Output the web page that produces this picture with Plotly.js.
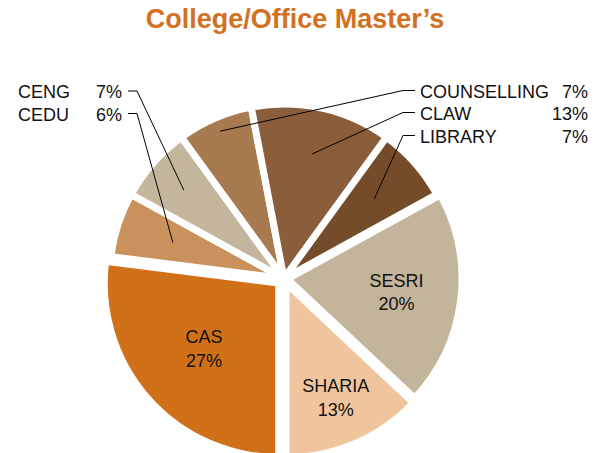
<!DOCTYPE html>
<html><head><meta charset="utf-8">
<script src="https://cdn.plot.ly/plotly-3.0.1.min.js"></script>
<style>html,body{margin:0;padding:0;overflow:hidden;background:#fff}#chart{width:597px;height:460px}</style>
</head><body><div id="chart"></div>
<script>
// ---- data ----
const categories = ['CAS','CEDU','CENG','COUNSELLING','CLAW','LIBRARY','SESRI','SHARIA'];
const percents   = [27, 6, 7, 7, 13, 7, 20, 13];
const colors     = ['#D0711A','#CA915D','#C4B69D','#A87A50','#8A5D3B','#744C2A','#C3B59B','#F0C59E'];
const insideLabels = ['CAS','SESRI','SHARIA'];
const calloutLeft  = ['CENG','CEDU'];
const calloutRight = ['COUNSELLING','CLAW','LIBRARY'];

// ---- layout / style ----
const W = 597, H = 460, T = 97;
const domX = [0.1657, 0.7857];
const pulls = [0.04, 0, 0, 0, 0, 0, 0.02, 0.03];
const font = 'Liberation Sans, Arial, Helvetica, sans-serif';
const leftRowsY = [92.5, 115];
const rightRowsY = [92, 114, 137];
const leaderFrac = {CENG:0.765, CEDU:0.67, COUNSELLING:0.92, CLAW:0.73, LIBRARY:0.69};

const plotH = H - T;
const R = Math.min(W*(domX[1]-domX[0])/2, plotH/2) / (1 + Math.max(...pulls));
const cx = W*(domX[0]+domX[1])/2, cy = T + plotH/2;
const total = percents.reduce((a,b)=>a+b,0);
const startDeg = 180;
const midDeg = {};
let cum = 0;
categories.forEach((c,i)=>{ midDeg[c] = startDeg + (cum + percents[i]/2)/total*360; cum += percents[i]; });
function anchorPt(c){
  const a = midDeg[c]*Math.PI/180, r = leaderFrac[c]*R;
  return [cx + r*Math.sin(a), cy - r*Math.cos(a)];
}
const px = x => x / W;
const py = y => (H - y) / plotH;

const texts = categories.map((c,i)=> insideLabels.includes(c) ? c + '<br>' + percents[i] + '%' : '');

const annotations = [], shapes = [];
function addRow(c, y, nameX, valX, hx0, hx1){
  const i = categories.indexOf(c);
  annotations.push({xref:'paper', yref:'paper', x:px(nameX), y:py(y), xanchor:'left', yanchor:'middle',
    text:c, showarrow:false, font:{family:font, size:18, color:'#111'}});
  annotations.push({xref:'paper', yref:'paper', x:px(valX), y:py(y), xanchor:'right', yanchor:'middle',
    text:percents[i]+'%', showarrow:false, font:{family:font, size:18, color:'#111'}});
  const p = anchorPt(c);
  const ly = y - 1.5;
  shapes.push({type:'path', xref:'paper', yref:'paper',
    path:`M ${px(hx0)},${py(ly)} L ${px(hx1)},${py(ly)} L ${px(p[0])},${py(p[1])}`,
    line:{color:'#000', width:1}});
}
calloutLeft.forEach((c,k)=> addRow(c, leftRowsY[k], 16, 124, 128, 137));
calloutRight.forEach((c,k)=> addRow(c, rightRowsY[k], 418, 590, 415, 403));

const trace = {
  type:'pie', labels:categories, values:percents, sort:false, direction:'clockwise', rotation:startDeg,
  pull:pulls, marker:{colors:colors, line:{color:'#fff', width:7}},
  text:texts, textinfo:'text', textposition:'inside', insidetextorientation:'horizontal',
  textfont:{family:font, size:18, color:'#111'}, hoverinfo:'none',
  domain:{x:domX, y:[0,1]}
};

const layout = {
  width:W, height:H, margin:{l:0, r:0, t:T, b:0}, showlegend:false,
  paper_bgcolor:'#fff',
  title:{text:'College/Office Master’s', x:295/W, xanchor:'center', xref:'paper', yref:'container', y:1-19/H, yanchor:'middle',
    font:{family:font, size:27, color:'#D2711F', weight:'bold'}},
  annotations:annotations, shapes:shapes
};
Plotly.newPlot('chart', [trace], layout, {staticPlot:true, displayModeBar:false});
</script></body></html>
